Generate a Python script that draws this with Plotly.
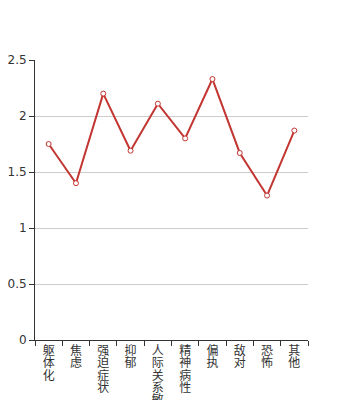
import plotly.graph_objects as go

categories = ["躯体化", "焦虑", "强迫症状", "抑郁", "人际关系敏感", "精神病性", "偏执", "敌对", "恐怖", "其他"]
values = [1.75, 1.40, 2.20, 1.69, 2.11, 1.80, 2.33, 1.67, 1.29, 1.87]
y_ticks = [0, 0.5, 1, 1.5, 2, 2.5]
y_tick_labels = ["0", "0.5", "1", "1.5", "2", "2.5"]

LINE = 12.3
n = len(categories)
max_len = max(len(c) for c in categories)
cjk = dict(family="Noto Sans CJK SC, sans-serif", size=12, color="#333")

fig = go.Figure(go.Scatter(
    x=categories, y=values, mode="lines+markers",
    line=dict(color="#c23531", width=2),
    marker=dict(symbol="circle", size=5, color="white", line=dict(color="#c23531", width=1)),
    hoverinfo="y",
))

layout = dict(
    width=342, height=400,
    margin=dict(l=35, r=34, t=60, b=60, autoexpand=False),
    plot_bgcolor="white", paper_bgcolor="white",
    showlegend=False,
    font=cjk,
    xaxis=dict(
        type="category", showgrid=False, showline=True, linecolor="#333", linewidth=1,
        ticks="outside", tickson="boundaries", ticklen=5, tickcolor="#333",
        showticklabels=False, range=[-0.5, n - 0.5], fixedrange=True, automargin=False,
    ),
    yaxis=dict(
        range=[0, 2.5], tickvals=y_ticks, ticktext=y_tick_labels,
        showgrid=True, gridcolor="#ccc", gridwidth=1, zeroline=False,
        showline=True, linecolor="#333", linewidth=1,
        ticks="outside", ticklen=5, tickcolor="#333",
        tickfont=dict(family="DejaVu Sans, sans-serif", size=12, color="#333"),
        fixedrange=True, automargin=False,
    ),
)

# one overlay axis per character row, so the vertical label characters sit close together
for k in range(max_len):
    ax = "x%d" % (k + 2)
    layout["xaxis%d" % (k + 2)] = dict(
        type="linear", overlaying="x", anchor="y", side="bottom", visible=True,
        range=[-0.5, n - 0.5],
        tickmode="array", tickvals=list(range(n)),
        ticktext=[c[k] if k < len(c) else "" for c in categories],
        showgrid=False, zeroline=False, showline=False, ticks="",
        showticklabels=True, tickfont=cjk,
        ticklabelstandoff=int(round(2 + k * LINE)),
        automargin=False, fixedrange=True,
    )
    fig.add_trace(go.Scatter(x=[None], y=[None], xaxis=ax, yaxis="y",
                             mode="markers", showlegend=False, hoverinfo="skip"))

fig.update_layout(**layout)
fig.write_html("out.html")
